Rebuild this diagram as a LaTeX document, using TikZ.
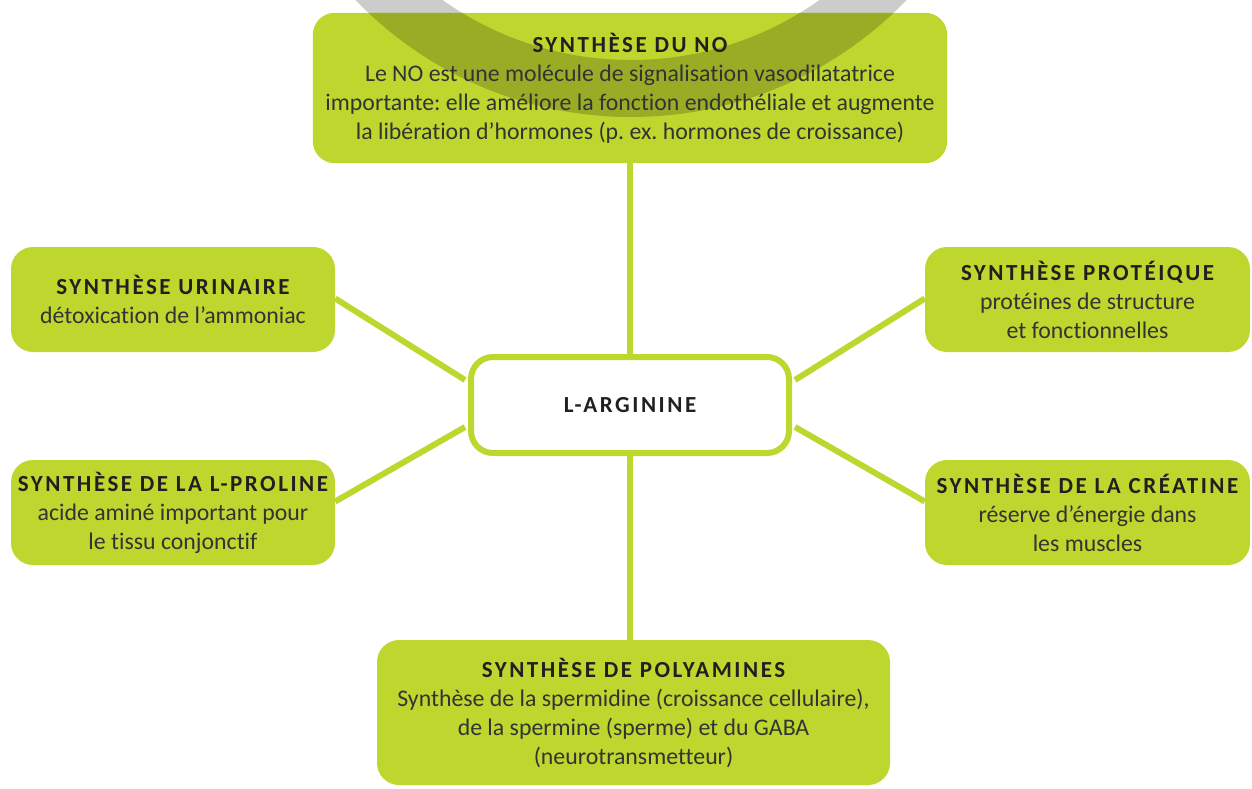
\documentclass[tikz,border=0pt]{standalone}
\usepackage{fontspec}
\setmainfont{Carlito}[Ligatures=NoCommon]
\newfontfamily\tfont{Carlito}[LetterSpace=11,Ligatures=NoCommon]
\usetikzlibrary{calc,backgrounds}
\definecolor{boxgreen}{RGB}{190,215,47}
\definecolor{ringgrey}{RGB}{204,204,204}
\definecolor{ringdark}{RGB}{153,172,38}
\definecolor{txt}{RGB}{51,51,51}
\definecolor{ttlc}{RGB}{35,31,32}
\newcommand\ttl[1]{{\tfont\bfseries\color{ttlc}\fontsize{23}{29}\selectfont #1}}
\tikzset{
  gbox/.style={fill=boxgreen, rounded corners=22pt, inner sep=0pt, align=center,
    text=txt, font=\fontsize{23.8}{29}\selectfont},
  conn/.style={draw=boxgreen, line width=6pt},
  cbox/.style={draw=boxgreen, line width=6pt, fill=white, rounded corners=22pt,
    inner sep=0pt, minimum width=318pt, minimum height=96pt}
}
\frenchspacing
\begin{document}
\begin{tikzpicture}[x=1pt,y=-1pt]
\useasboundingbox (0,0) rectangle (1252,789);
% top box (text only, fill drawn on background)
\node[inner sep=0pt, align=center, text=txt, font=\fontsize{23.8}{29}\selectfont,
  minimum width=634pt, minimum height=150pt] (no) at (630,88)
  {\ttl{SYNTHÈSE DU NO}\\
   Le NO est une molécule de signalisation vasodilatatrice\\
   importante: elle améliore la fonction endothéliale et augmente\\
   la libération d’hormones (p. ex. hormones de croissance)};
\begin{pgfonlayer}{background}
  \draw[ringgrey, line width=57pt] (631,-266) circle (354.5);
  \fill[boxgreen, rounded corners=22pt] (no.north west) rectangle (no.south east);
  \begin{scope}
    \clip[rounded corners=22pt] (no.north west) rectangle (no.south east);
    \draw[ringdark, line width=57pt] (631,-266) circle (354.5);
  \end{scope}
\end{pgfonlayer}
\node[gbox, minimum width=324pt, minimum height=105pt] (ul) at (173,299.5)
  {\ttl{SYNTHÈSE URINAIRE}\\ détoxication de l’ammoniac};
\node[gbox, minimum width=325pt, minimum height=105pt] (ur) at (1087.5,299.5)
  {\ttl{SYNTHÈSE PROTÉIQUE}\\ protéines de structure\\ et fonctionnelles};
\node[gbox, minimum width=324pt, minimum height=105pt] (ll) at (173,512.5)
  {\ttl{SYNTHÈSE DE LA L-PROLINE}\\ acide aminé important pour\\ le tissu conjonctif};
\node[gbox, minimum width=325pt, minimum height=105pt] (lr) at (1087.5,512.5)
  {\ttl{SYNTHÈSE DE LA CRÉATINE}\\ réserve d’énergie dans\\ les muscles};
\node[gbox, minimum width=513pt, minimum height=145pt] (pa) at (633.5,712.5)
  {\ttl{SYNTHÈSE DE POLYAMINES}\\ Synthèse de la spermidine (croissance cellulaire),\\
   de la spermine (sperme) et du GABA\\ (neurotransmetteur)};
\node[cbox] (c) at (630,405) {\ttl{L-ARGININE}};
% connectors
\draw[conn] (no.south) -- (c.north);
\draw[conn] (c.south) -- (c.south |- pa.north);
\draw[conn] ($(ul.east)+(0,-1)$) -- ($(c.west)+(-3,-25)$);
\draw[conn] ($(ll.east)+(0,-11)$) -- ($(c.west)+(-3,22)$);
\draw[conn] ($(ur.west)+(0,-1)$) -- ($(c.east)+(3,-25)$);
\draw[conn] ($(lr.west)+(0,-11)$) -- ($(c.east)+(3,22)$);
\end{tikzpicture}
\end{document}
